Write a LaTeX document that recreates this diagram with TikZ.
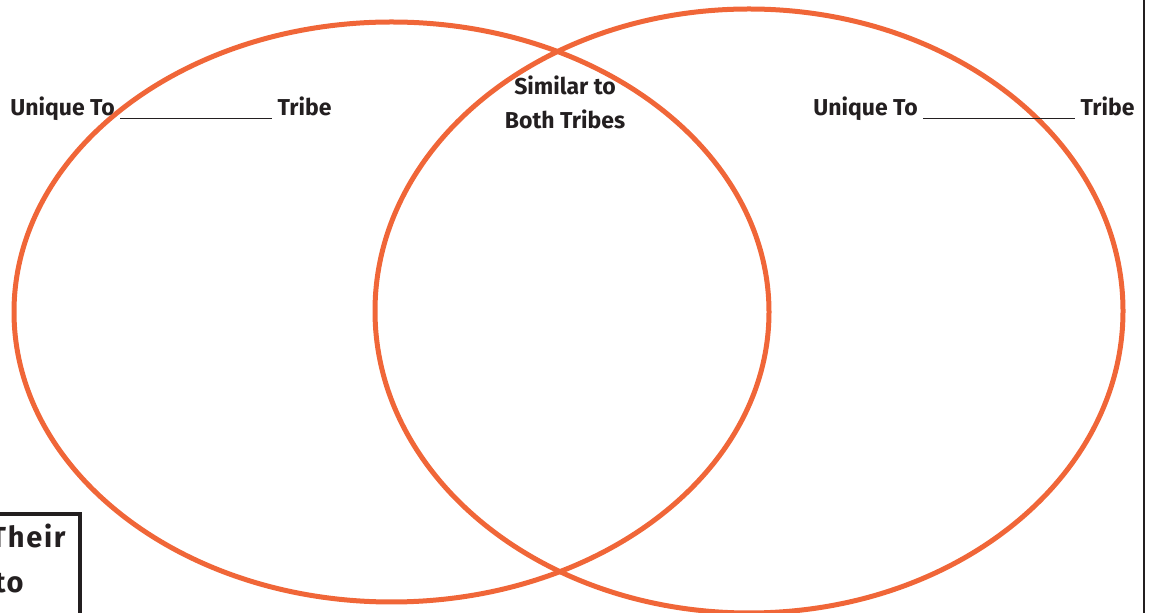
\documentclass[tikz,border=0pt]{standalone}
\usepackage{fontspec}
\setmainfont{Fira Sans}
\usepackage{xcolor}
\usepackage{tikz}
\usetikzlibrary{positioning}
\definecolor{vennorange}{RGB}{240,102,56}
\definecolor{inkgrey}{RGB}{35,31,32}
\tikzstyle{circ} = [draw=vennorange, line width=2.5pt]
\tikzstyle{heading} = [inner sep=0pt, font=\fontsize{11.5}{16}\selectfont\bfseries, text=inkgrey]
\tikzstyle{boxtext} = [inner sep=0pt, font=\fontsize{14.5}{16}\selectfont\bfseries\addfontfeature{LetterSpace=6}, text=inkgrey]
\tikzstyle{frame} = [draw=inkgrey, line width=1.7pt]
\newcommand{\blankline}{\rule[-1.5pt]{76pt}{0.7pt}}

\begin{document}
\begin{tikzpicture}[x=0.5pt, y=-0.5pt]
    \useasboundingbox (0,0) rectangle (1151,613);

    % the two sets
    \draw [circ] (391.5,312) ellipse [x radius=377.5, y radius=290];
    \draw [circ] (749,311) ellipse [x radius=374, y radius=302];

    % labels
    \node (leftlbl) [heading, anchor=base west] at (10,116) {Unique To \blankline\ Tribe};
    \node (rightlbl) [heading, anchor=base west] at (813,116) {Unique To \blankline\ Tribe};
    \node (both) [heading, anchor=base, align=center] at (565,129) {Similar to\\[1pt]Both Tribes};

    % cut-off box at the bottom left
    \draw [frame] (-10,514) -- (80,514) -- (80,620);
    \node (their) [boxtext, anchor=base east] at (66,548) {Their};
    \node (to) [boxtext, anchor=base east] at (24,593) {to};

    % page edge
    \draw [draw=inkgrey, line width=1pt] (1144,-5) -- (1144,620);
\end{tikzpicture}
\end{document}
